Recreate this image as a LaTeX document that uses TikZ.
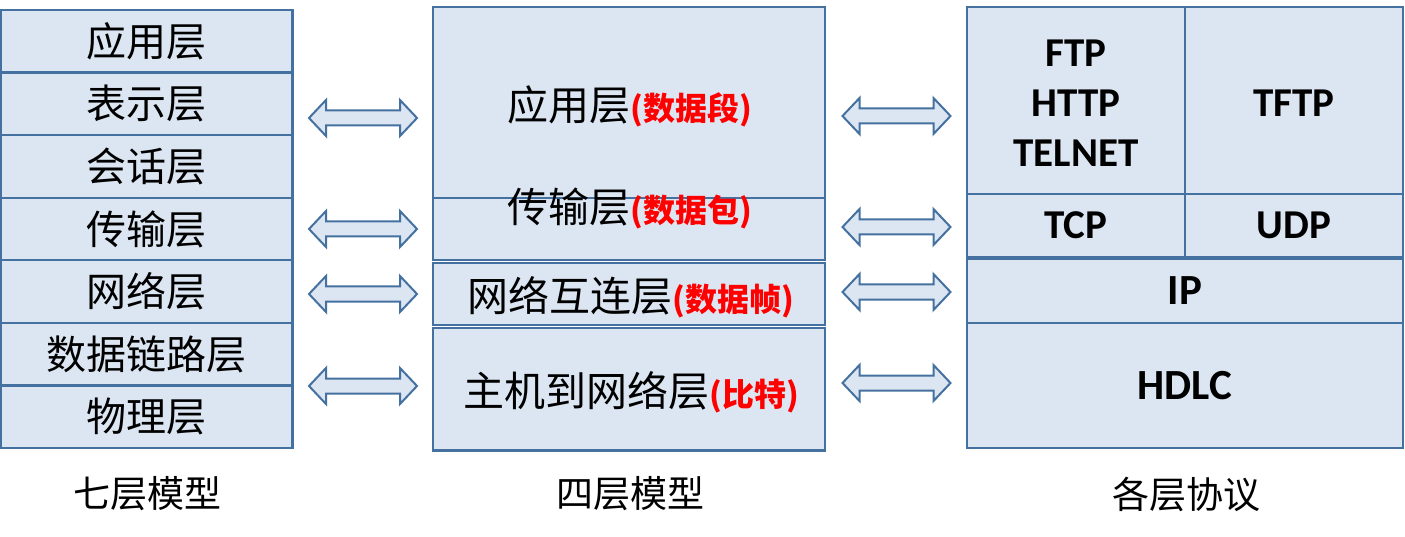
\documentclass[tikz,border=0pt]{standalone}
\usepackage{fontspec}
\newfontfamily\cjk{Noto Sans CJK SC}
\newfontfamily\lat{Carlito}
\definecolor{boxfill}{HTML}{DCE6F2}
\definecolor{boxline}{HTML}{44719F}
\definecolor{redtxt}{HTML}{FF0000}
\newcommand{\rd}[1]{\textcolor{redtxt}{\bfseries\fontsize{32}{36}\selectfont #1}}
\tikzset{
  layer/.style args={#1x#2}{draw=boxline, fill=boxfill, line width=2.4pt, inner sep=0pt,
    minimum width=#1pt, minimum height=#2pt},
  cn/.style={font=\cjk\fontsize{40}{48}\selectfont, inner sep=0pt},
  cnm/.style={font=\cjk\fontsize{41}{48}\selectfont, inner sep=0pt},
  caption/.style={font=\cjk\fontsize{37}{44}\selectfont, inner sep=0pt},
  en/.style={font=\lat\bfseries\fontsize{41}{50}\selectfont, align=center, inner sep=0pt},
  enbig/.style={font=\lat\bfseries\fontsize{43}{50}\selectfont, inner sep=0pt},
  dblarrow/.pic={
    \path[draw=boxline, fill=boxfill, line width=2pt, line join=miter]
      (-54,0) -- (-37,-18) -- (-37,-7.5) -- (37,-7.5) -- (37,-18) -- (54,0)
      -- (37,18) -- (37,7.5) -- (-37,7.5) -- (-37,18) -- cycle;
  }
}
\begin{document}
\begin{tikzpicture}[x=1pt,y=-1pt]
\useasboundingbox (0,0) rectangle (1405,537);
% seven-layer model
\node[layer=291.25x62.57, cn] (l1) at (146.9,41.29) {应用层};
\node[layer=291.25x62.57, cn] (l2) at (146.9,103.86) {表示层};
\node[layer=291.25x62.57, cn] (l3) at (146.9,166.43) {会话层};
\node[layer=291.25x62.57, cn] (l4) at (146.9,229.0) {传输层};
\node[layer=291.25x62.57, cn] (l5) at (146.9,291.57) {网络层};
\node[layer=291.25x62.57, cn] (l6) at (146.9,354.14) {数据链路层};
\node[layer=291.25x62.57, cn] (l7) at (146.9,416.71) {物理层};
% four-layer model
\node[layer=392x191] (m1) at (629,102.5) {};
\node[layer=392x62] (m2) at (629,229) {};
\node[layer=392x62] (m3) at (629,294) {};
\node[layer=392x122.5] (m4) at (629,389.25) {};
\node[cnm] (t1) at (630,106) {应用层\rd{(数据段)}};
\node[cnm] (t2) at (630,208) {传输层\rd{(数据包)}};
\node[cnm] (t3) at (630.5,297) {网络互连层\rd{(数据帧)}};
\node[cnm] (t4) at (631,392) {主机到网络层\rd{(比特)}};
% protocols
\node[layer=218x187] (r1) at (1076,100.5) {};
\node[layer=218x187] (r2) at (1294,100.5) {};
\node[en] (p1) at (1076,103) {FTP\\HTTP\\TELNET};
\node[en] (p2) at (1294,103) {TFTP};
\node[layer=218x63, en] (r3) at (1076,225.5) {TCP};
\node[layer=218x63, en] (r4) at (1294,225.5) {UDP};
\node[layer=436x64.5, enbig] (r5) at (1185,290.75) {IP};
\node[layer=436x125, enbig] (r6) at (1185,385.5) {HDLC};
% arrows
\pic at (363,118) {dblarrow};
\pic at (363,229) {dblarrow};
\pic at (363,294) {dblarrow};
\pic at (363,386) {dblarrow};
\pic at (896.5,116) {dblarrow};
\pic at (896.5,227) {dblarrow};
\pic at (896.5,292) {dblarrow};
\pic at (896.5,383) {dblarrow};
% captions
\node[caption] (c1) at (147,494) {七层模型};
\node[caption] (c2) at (630,494) {四层模型};
\node[caption] (c3) at (1186,494) {各层协议};
\end{tikzpicture}
\end{document}
